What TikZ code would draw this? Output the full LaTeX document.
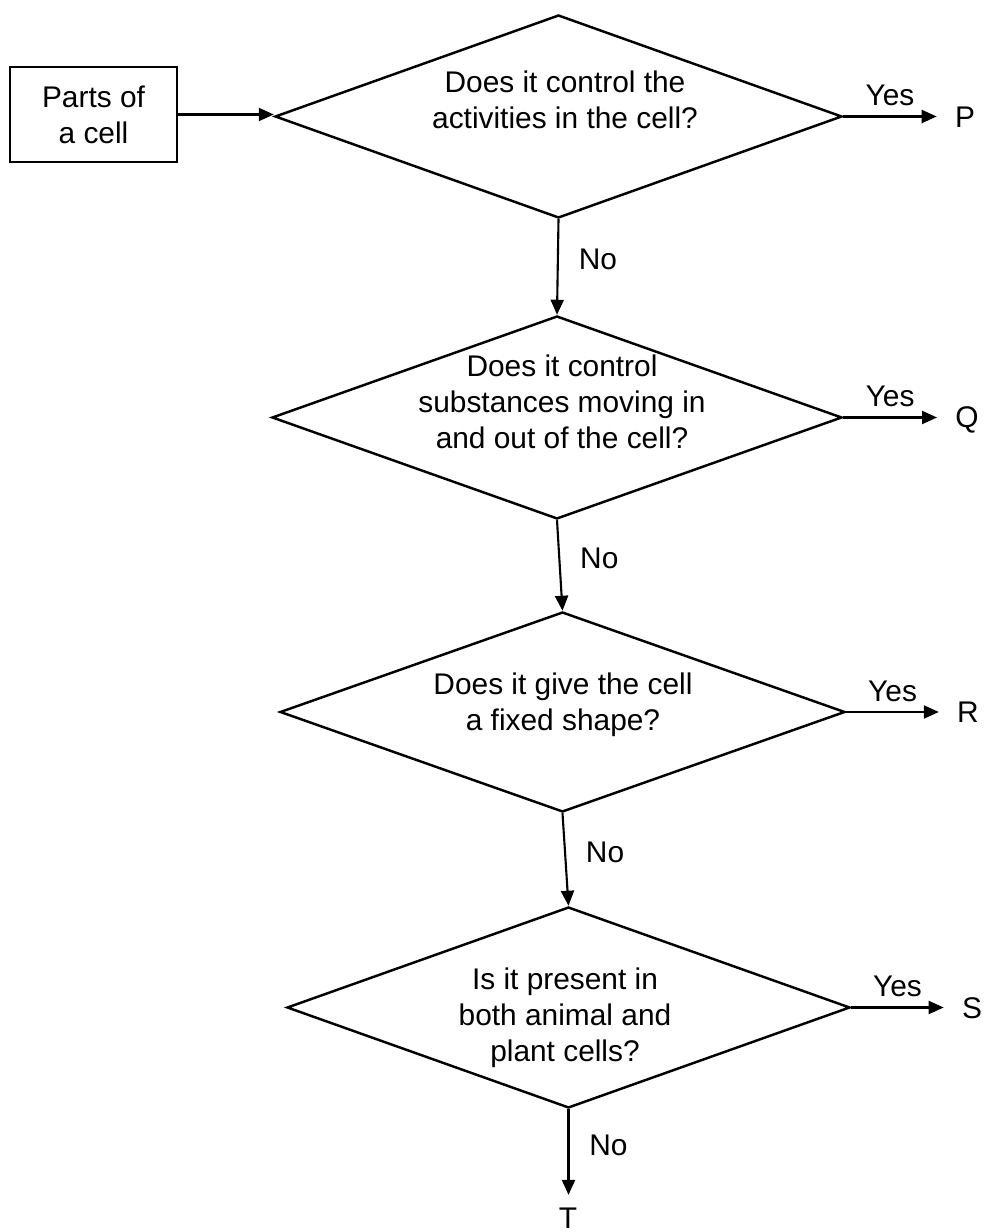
\documentclass[tikz,border=0pt]{standalone}
\usepackage{fontspec}
\setmainfont{Liberation Sans}
\usetikzlibrary{arrows.meta, shapes.geometric}

\begin{document}
\begin{tikzpicture}[
    every node/.style={font=\fontsize{17}{20.5}\selectfont},
    >={Triangle[length=0.3cm, width=0.26cm]},
    flow/.style={->, line width=1.2pt},
    question/.style={diamond, draw, line width=1.4pt, inner sep=0pt},
    qtext/.style={align=center},
    answer/.style={inner xsep=0.36cm, inner ysep=0.25cm},
]

\useasboundingbox (0,0) rectangle (19.72,24.64);

% === Start box ===
\node[draw, line width=1.1pt, minimum width=3.34cm, minimum height=1.9cm, align=center]
    (parts) at (1.87,22.35) {Parts of\\a cell};

% === Questions ===
\node[question, minimum width=11.34cm, minimum height=4.06cm] (ask1) at (11.17,22.31) {};
\node[qtext] (ask1txt) at (11.30,22.64) {Does it control the\\activities in the cell?};

\node[question, minimum width=11.40cm, minimum height=4.06cm] (ask2) at (11.14,16.29) {};
\node[qtext] (ask2txt) at (11.24,16.60) {Does it control\\substances moving in\\and out of the cell?};

\node[question, minimum width=11.30cm, minimum height=4.00cm] (ask3) at (11.25,10.40) {};
\node[qtext] (ask3txt) at (11.26,10.54) {Does it give the cell\\a fixed shape?};

\node[question, minimum width=11.26cm, minimum height=4.02cm] (ask4) at (11.37,4.49) {};
\node[qtext] (ask4txt) at (11.30,4.28) {Is it present in\\both animal and\\plant cells?};

% === Answers ===
\node[answer] (P) at (19.30,22.30) {P};
\node[answer] (Q) at (19.34,16.24) {Q};
\node[answer] (R) at (19.36,10.40) {R};
\node[answer] (S) at (19.44,4.48) {S};
\node[answer] (T) at (11.36,0.28) {T};

% === Flow ===
\draw[flow] (parts.east) -- (parts.east -| ask1.west);

\draw[flow] (ask1.east) -- node[above=2pt] (yes1) {Yes} (ask1.east -| P.west);
\draw[flow] (ask2.east) -- node[above=2pt] (yes2) {Yes} (ask2.east -| Q.west);
\draw[flow] (ask3.east) -- node[above=2pt] (yes3) {Yes} (ask3.east -| R.west);
\draw[flow] (ask4.east) -- node[above=2pt] (yes4) {Yes} (ask4.east -| S.west);

\draw[flow] (ask1.south) -- node[pos=0.42, right=0.28cm] (no1) {No} (ask2.north);
\draw[flow] (ask2.south) -- node[pos=0.42, right=0.28cm] (no2) {No} (ask3.north);
\draw[flow] (ask3.south) -- node[pos=0.42, right=0.28cm] (no3) {No} (ask4.north);
\draw[flow] (ask4.south) -- node[pos=0.42, right=0.28cm] (no4) {No} (ask4.south |- T.north);

\end{tikzpicture}
\end{document}
